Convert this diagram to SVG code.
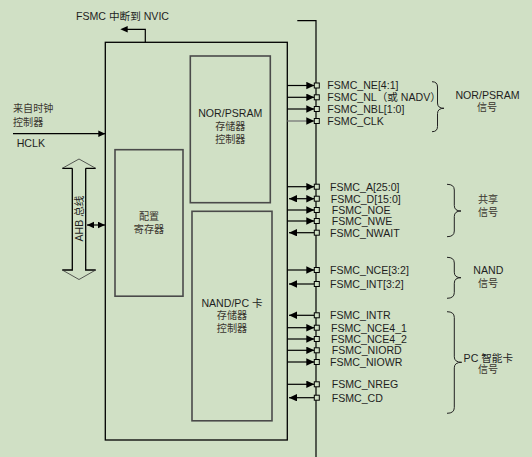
<svg xmlns="http://www.w3.org/2000/svg" width="532" height="457" viewBox="0 0 532 457">
<defs>
<style>
.t{font-family:"Liberation Sans","Noto Sans CJK SC",sans-serif;font-size:10.6px;fill:#1e1e1e}
.c{font-family:"Noto Sans CJK SC","Liberation Sans",sans-serif;font-size:10.1px;fill:#3a352e}
.m{text-anchor:middle}
.ln{stroke:#000;stroke-width:1.2;fill:none}
.bx{fill:none;stroke:#000;stroke-width:1.3}
.ib{fill:none;stroke:#4a4a4a;stroke-width:1.6}
.sq{fill:#d0e0c5;stroke:#000;stroke-width:1}
.br{fill:none;stroke:#222;stroke-width:1}
</style>
<marker id="ah" markerUnits="userSpaceOnUse" markerWidth="9" markerHeight="8" refX="8" refY="3.7" orient="auto-start-reverse">
<path d="M0,0 L8,3.7 L0,7.4 z" fill="#000"/>
</marker>
<marker id="ahs" markerUnits="userSpaceOnUse" markerWidth="9" markerHeight="8" refX="7" refY="3.3" orient="auto-start-reverse">
<path d="M0,0 L7,3.3 L0,6.6 z" fill="#000"/>
</marker>
</defs>
<rect width="532" height="457" fill="#d0e0c5"/>

<g id="fsmc">
<rect class="bx" x="105.3" y="42.3" width="182" height="397.7"/>
</g>
<g id="nor-ctrl">
<rect class="ib" x="190.3" y="56" width="80" height="146.7"/>
<text class="t m" x="230.3" y="117">NOR/PSRAM</text>
<text class="c m" x="230.3" y="130">存储器</text>
<text class="c m" x="230.3" y="142.7">控制器</text>
</g>
<g id="config-reg">
<rect class="ib" x="115" y="149.7" width="68" height="146.5"/>
<text class="c m" x="149" y="220">配置</text>
<text class="c m" x="149" y="232.7">寄存器</text>
</g>
<g id="nand-ctrl">
<rect class="ib" x="192" y="211.3" width="80" height="209.5"/>
<text class="t m" x="232" y="306.5">NAND/PC 卡</text>
<text class="c m" x="232" y="319.3">存储器</text>
<text class="c m" x="232" y="332">控制器</text>
</g>
<g id="nvic-label">
<text class="t" x="76" y="19.5">FSMC 中断到 NVIC</text>
</g>
<g id="clock-label">
<text class="c" x="13" y="112">来自时钟</text>
<text class="c" x="13" y="125.7">控制器</text>
<text class="t" x="16.7" y="146.7">HCLK</text>
</g>
<g id="ahb-bus">
<path d="M72.3,168.3 L72.3,270 L62.3,270 M85.7,168.3 L85.7,270 L95.7,270 M62.3,168.3 L72.3,168.3 M85.7,168.3 L95.7,168.3" stroke="#000" stroke-width="1.3" fill="none"/>
<path d="M62.3,168.3 L79,159 L95.7,168.3 M62.3,270 L79,279.5 L95.7,270" stroke="#333" stroke-width="0.8" fill="none"/>
<text class="t m" transform="translate(82.5,218.5) rotate(-90)" x="0" y="0">AHB 总线</text>
</g>

<g id="connectors">
<path class="ln" d="M145.3,42.3 V29.3 H127"/>
<path d="M120.3,29.3 L127.7,26 L127.7,32.6 z" fill="#000"/>
<line class="ln" x1="13" y1="133.7" x2="105.3" y2="133.7" marker-end="url(#ahs)"/>
<line class="ln" x1="87" y1="225" x2="105" y2="225" marker-start="url(#ahs)" marker-end="url(#ahs)"/>
<path class="ln" d="M297.3,20.7 H316 V457"/>

<line class="ln" x1="287.3" y1="85.5" x2="314.3" y2="85.5" marker-end="url(#ah)"/>
<line class="ln" x1="287.3" y1="97.3" x2="314.3" y2="97.3" marker-end="url(#ah)"/>
<line class="ln" x1="287.3" y1="109" x2="314.3" y2="109" marker-end="url(#ah)"/>
<line x1="287.3" y1="121" x2="314.3" y2="121" stroke="#777" stroke-width="1.3" marker-end="url(#ah)"/>

<line class="ln" x1="287.3" y1="186.7" x2="314.3" y2="186.7" marker-end="url(#ah)"/>
<line class="ln" x1="289" y1="198.7" x2="314.3" y2="198.7" marker-start="url(#ah)" marker-end="url(#ah)"/>
<line class="ln" x1="287.3" y1="210" x2="314.3" y2="210" marker-end="url(#ah)"/>
<line class="ln" x1="287.3" y1="221" x2="314.3" y2="221" marker-end="url(#ah)"/>
<line class="ln" x1="314.3" y1="232.7" x2="289" y2="232.7" marker-end="url(#ah)"/>

<line class="ln" x1="287.3" y1="270" x2="314.3" y2="270" marker-end="url(#ah)"/>
<line class="ln" x1="314.3" y1="284" x2="289" y2="284" marker-end="url(#ah)"/>

<line class="ln" x1="314.3" y1="315.3" x2="289" y2="315.3" marker-end="url(#ah)"/>
<line class="ln" x1="287.3" y1="327.7" x2="314.3" y2="327.7" marker-end="url(#ah)"/>
<line class="ln" x1="287.3" y1="339" x2="314.3" y2="339" marker-end="url(#ah)"/>
<line class="ln" x1="287.3" y1="350.3" x2="314.3" y2="350.3" marker-end="url(#ah)"/>
<line class="ln" x1="287.3" y1="362" x2="314.3" y2="362" marker-end="url(#ah)"/>
<line class="ln" x1="287.3" y1="384.3" x2="314.3" y2="384.3" marker-end="url(#ah)"/>
<line class="ln" x1="314.3" y1="397.7" x2="289" y2="397.7" marker-end="url(#ah)"/>
</g>

<g id="pins">
<rect class="sq" x="314.3" y="83" width="5" height="5"/>
<rect class="sq" x="314.3" y="94.8" width="5" height="5"/>
<rect class="sq" x="314.3" y="106.5" width="5" height="5"/>
<rect class="sq" x="314.3" y="118.5" width="5" height="5" stroke="#555"/>
<rect class="sq" x="314.3" y="184.2" width="5" height="5"/>
<rect class="sq" x="314.3" y="196.2" width="5" height="5"/>
<rect class="sq" x="314.3" y="207.5" width="5" height="5"/>
<rect class="sq" x="314.3" y="218.5" width="5" height="5"/>
<rect class="sq" x="314.3" y="230.2" width="5" height="5"/>
<rect class="sq" x="314.3" y="267.5" width="5" height="5"/>
<rect class="sq" x="314.3" y="281.5" width="5" height="5"/>
<rect class="sq" x="314.3" y="312.8" width="5" height="5"/>
<rect class="sq" x="314.3" y="325.2" width="5" height="5"/>
<rect class="sq" x="314.3" y="336.5" width="5" height="5"/>
<rect class="sq" x="314.3" y="347.8" width="5" height="5"/>
<rect class="sq" x="314.3" y="359.5" width="5" height="5"/>
<rect class="sq" x="314.3" y="381.8" width="5" height="5"/>
<rect class="sq" x="314.3" y="395.2" width="5" height="5"/>
</g>

<g id="signals">
<text class="t" x="327.3" y="89.3">FSMC_NE[4:1]</text>
<text class="t" x="327.3" y="101.1">FSMC_NL（或 NADV）</text>
<text class="t" x="327.3" y="112.8">FSMC_NBL[1:0]</text>
<text class="t" x="327.3" y="124.8">FSMC_CLK</text>
<text class="t" x="330" y="190.5">FSMC_A[25:0]</text>
<text class="t" x="330.7" y="202.5">FSMC_D[15:0]</text>
<text class="t" x="331.7" y="213.8">FSMC_NOE</text>
<text class="t" x="331.7" y="224.8">FSMC_NWE</text>
<text class="t" x="330" y="236.5">FSMC_NWAIT</text>
<text class="t" x="330" y="273.8">FSMC_NCE[3:2]</text>
<text class="t" x="330" y="287.8">FSMC_INT[3:2]</text>
<text class="t" x="330" y="319.1">FSMC_INTR</text>
<text class="t" x="331" y="331.5">FSMC_NCE4_1</text>
<text class="t" x="331" y="342.8">FSMC_NCE4_2</text>
<text class="t" x="331.7" y="354.1">FSMC_NIORD</text>
<text class="t" x="330" y="365.8">FSMC_NIOWR</text>
<text class="t" x="331.7" y="388.1">FSMC_NREG</text>
<text class="t" x="331.7" y="401.5">FSMC_CD</text>
</g>

<g id="group-nor">
<path class="br" d="M432,81.7 Q437.5,81.7 437.5,87 V103 Q437.5,108.3 444,108.3 Q437.5,108.3 437.5,113.6 V126.5 Q437.5,131.7 432,131.7"/>
<text class="t m" x="487.5" y="99.3">NOR/PSRAM</text>
<text class="c m" x="487" y="111">信号</text>
</g>
<g id="group-shared">
<path class="br" d="M447,184.3 Q454.3,184.3 454.3,190 V205.5 Q454.3,211 461,211 Q454.3,211 454.3,216.5 V231 Q454.3,236.7 447,236.7"/>
<text class="c m" x="488" y="203">共享</text>
<text class="c m" x="488" y="215.7">信号</text>
</g>
<g id="group-nand">
<path class="br" d="M447,257.3 Q454.3,257.3 454.3,263 V272.2 Q454.3,277.7 461,277.7 Q454.3,277.7 454.3,283.2 V292.6 Q454.3,298.3 447,298.3"/>
<text class="t m" x="488.3" y="274.3">NAND</text>
<text class="c m" x="488" y="286.7">信号</text>
</g>
<g id="group-pc">
<path class="br" d="M447,311.7 Q454.3,311.7 454.3,317.4 V356.8 Q454.3,362.3 461.7,362.3 Q454.3,362.3 454.3,367.8 V407.6 Q454.3,413.3 447,413.3"/>
<text class="t m" x="488.3" y="362">PC 智能卡</text>
<text class="c m" x="488" y="372.8">信号</text>
</g>
</svg>
